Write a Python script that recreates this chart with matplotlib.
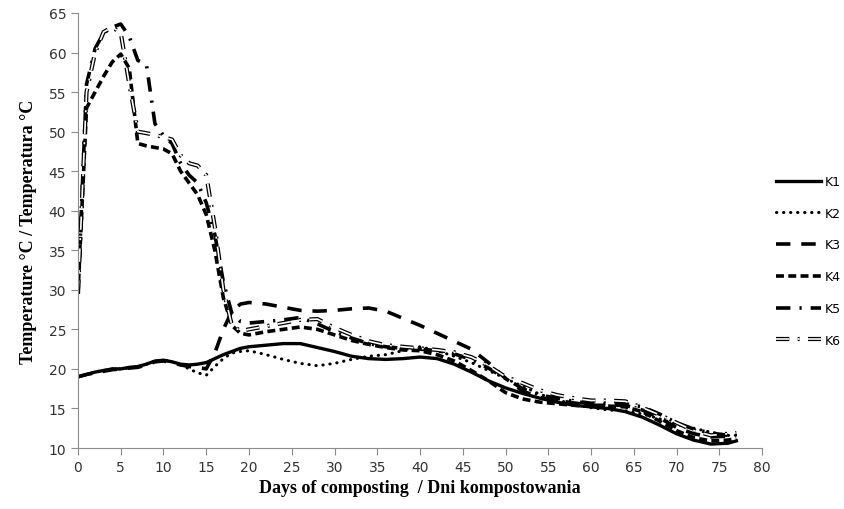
import matplotlib
matplotlib.use('Agg')
import matplotlib.pyplot as plt
import matplotlib.patheffects as pe

days = [0, 1, 2, 3, 4, 5, 6, 7, 8, 9, 10, 11, 12, 13, 14, 15, 16, 17, 18, 19, 20,
        22, 24, 26, 28, 30, 32, 34, 36, 38, 40, 42, 44, 46, 48, 50, 52, 54, 56, 58,
        60, 62, 64, 66, 68, 70, 72, 74, 76, 77]

k1 = [19, 19.3, 19.6, 19.8, 20, 20, 20.2, 20.3, 20.6, 21, 21.1, 20.9, 20.6, 20.5, 20.6, 20.8,
      21.3, 21.8, 22.2, 22.6, 22.8,
      23.0, 23.2, 23.2, 22.7, 22.2, 21.6, 21.3, 21.2, 21.3, 21.5, 21.3, 20.6, 19.6, 18.5, 17.6,
      16.9, 16.3, 15.8, 15.4, 15.2, 15.0, 14.6, 13.9, 12.9, 11.8, 11.0, 10.5, 10.6, 10.9]
k2 = [19, 19.3, 19.6, 19.8, 20, 20, 20.1, 20.3, 20.6, 21, 21.1, 20.9, 20.5, 20, 19.5, 19.2,
      20.3, 21.3, 22, 22.2, 22.3,
      21.8, 21.2, 20.7, 20.4, 20.7, 21.2, 21.6, 21.8, 22.3, 22.8, 22.3, 21.6, 20.8, 19.8, 18.8,
      17.8, 16.8, 16.1, 15.5, 15.1, 14.8, 14.7, 14.3, 13.7, 13.0, 12.5, 12.0, 11.6, 11.6]
k3 = [19, 19.3, 19.5, 19.7, 19.9, 20, 20.1, 20.2, 20.5, 20.9, 21, 20.8, 20.5, 20.3, 20.2, 20.0,
      22, 25, 27.3, 28.2, 28.4,
      28.2, 27.8, 27.4, 27.3, 27.4, 27.6, 27.7, 27.3, 26.4, 25.5, 24.5, 23.5, 22.5, 20.8, 18.8,
      17.2, 16.4, 16.0, 15.7, 15.4, 15.4, 15.4, 14.8, 13.8, 12.6, 11.8, 11.4, 11.5, 11.8]
k4 = [29.5, 53, 55, 57, 58.8, 59.8, 58, 48.5, 48.2, 48, 47.8, 47.2, 45, 43.5, 42, 39.5,
      35, 29, 25.5, 24.5, 24.3,
      24.7, 25, 25.3, 25, 24.3, 23.6, 23.1, 22.7, 22.4, 22.3, 21.8, 21, 19.8, 18.5, 17.0,
      16.2, 15.8, 15.6, 15.4, 15.3, 15.3, 15.2, 14.6, 13.4, 12.2, 11.3, 10.9, 11, 11.2]
k5 = [29.5, 56, 60.5, 62.5, 63.2, 63.6, 62, 59, 58.5, 51, 49.5, 48.5, 46, 44.5, 43.5, 41,
      37, 31, 27, 26, 25.8,
      26, 26.2, 26.5, 25.7, 24.7, 23.9, 23.2, 22.8, 22.6, 22.5, 22.3, 21.9, 21.2, 20.1, 18.8,
      17.5, 16.7, 16.3, 15.9, 15.6, 15.6, 15.6, 15.2, 14.3, 13.2, 12.4, 11.9, 11.6, 11.6]
k6 = [29.5, 55, 60, 62.6, 63.2, 62.5, 56, 50, 49.8, 49.6, 49.3, 49, 47, 46, 45.7, 44.5,
      38, 30, 25.5, 24.8, 25,
      25.4, 25.8, 26.2, 26.3, 25.2, 24.3, 23.5, 23, 22.8, 22.6, 22.4, 22.1, 21.5, 20.4, 19.0,
      18.2, 17.3, 16.7, 16.3, 16.0, 16.0, 15.9, 15.1, 14.2, 13.2, 12.2, 11.6, 11.8, 11.9]

fig = plt.figure(figsize=(8.45, 5.1), dpi=100)
ax = fig.add_axes([0.0923, 0.1196, 0.8095, 0.853])

ax.plot(days, k1, color='black', lw=2.4, label='K1')
ax.plot(days, k2, color='black', lw=2.2, linestyle=(0, (0.1, 2.2)), dash_capstyle='round', label='K2')
ax.plot(days, k3, color='black', lw=2.6, linestyle=(0, (4, 3)), label='K3')
ax.plot(days, k4, color='black', lw=2.6, linestyle=(0, (2.2, 1.2)), label='K4')
ax.plot(days, k5, color='black', lw=2.6, linestyle=(0, (4, 2.5, 0.6, 2.5)), label='K5')
ax.plot(days, k6, color='white', lw=1.2, linestyle=(0, (8, 5, 1.2, 5)), label='K6',
        path_effects=[pe.Stroke(linewidth=3.0, foreground='black'), pe.Normal()])

ax.set_xlim(0, 80)
ax.set_ylim(10, 65)
ax.set_xticks(range(0, 81, 5))
ax.set_yticks(range(10, 66, 5))
for s in ['top', 'right']:
    ax.spines[s].set_visible(False)
for s in ['left', 'bottom']:
    ax.spines[s].set_color('#8c8c8c')
ax.tick_params(colors='#8c8c8c', labelcolor='#333333', labelsize=10, length=5)

ax.set_xlabel('Days of composting  / Dni kompostowania', family='Liberation Serif',
              fontweight='bold', fontsize=13)
ax.set_ylabel('Temperature °C / Temperatura °C', family='Liberation Serif',
              fontweight='bold', fontsize=13, labelpad=8)

fig.legend(loc='upper left', bbox_to_anchor=(0.918, 0.655), frameon=False, fontsize=9,
           handlelength=3.6, labelspacing=1.5, handletextpad=0.3, borderpad=0,
           borderaxespad=0)

fig.savefig('out.png', dpi=100)
